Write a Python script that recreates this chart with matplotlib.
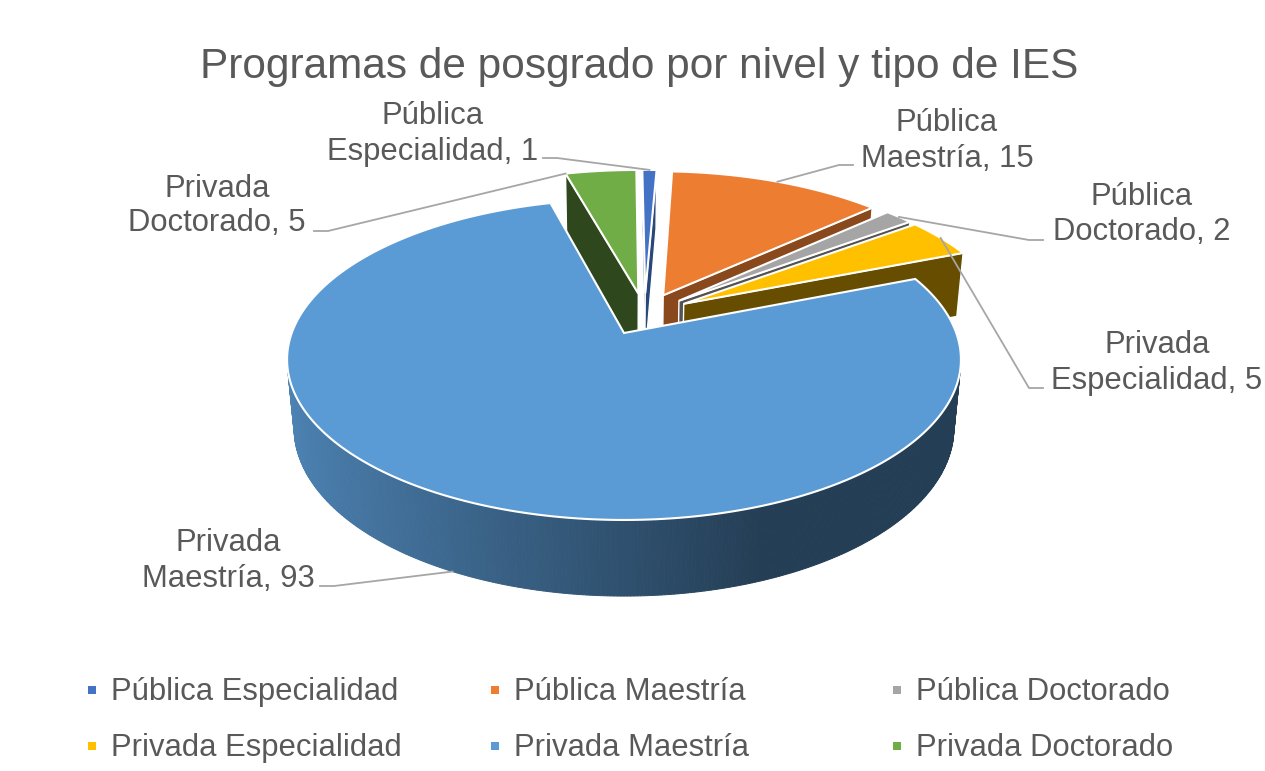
import numpy as np
import matplotlib
matplotlib.use("Agg")
import matplotlib.pyplot as plt
from matplotlib.patches import Polygon, Rectangle
from matplotlib.colors import to_rgb

plt.rcParams["font.family"] = ["Liberation Sans", "DejaVu Sans"]

TITLE = "Programas de posgrado por nivel y tipo de IES"
CATEGORIES = ["Pública Especialidad", "Pública Maestría", "Pública Doctorado",
              "Privada Especialidad", "Privada Maestría", "Privada Doctorado"]
LABEL_L1 = ["Pública", "Pública", "Pública", "Privada", "Privada", "Privada"]
LABEL_L2 = ["Especialidad", "Maestría", "Doctorado", "Especialidad", "Maestría", "Doctorado"]
VALUES = [1, 15, 2, 5, 93, 5]
COLORS = ["#4472C4", "#ED7D31", "#A5A5A5", "#FFC000", "#5B9BD5", "#70AD47"]

# label layout in pixels: centre x, baseline line 1, baseline line 2
LABEL_POS = [(433, 124, 160), (947, 131, 167), (1142, 205, 240),
             (1157, 353, 389), (228, 551, 587), (217, 197, 231)]
LEADER_TXT = [(543, 158), (853, 165), (1043, 240), (1043, 388), (320, 586), (314, 231)]
ANCHOR_FRAC = [0.5, 0.5, 0.5, 0.5, 0.5, 0.0]
ANCHOR_Z = [0, 0, 0, 0, -1, 0]
SIDE_SHADE = [0.62, 0.58, 0.5, 0.4, 0.45, 0.41]

TEXT = "#595959"
LINE = "#A6A6A6"

# 3d view
ELEV = np.radians(28)
DIST = 5.33
FOCAL = 1771
CX, CY = 624, 333
THICK = 0.235
EXPLODE = 0.14
CAM = np.array([0, -DIST * np.cos(ELEV), DIST * np.sin(ELEV)])


def project(x, y, z):
    depth = DIST + y * np.cos(ELEV) - z * np.sin(ELEV)
    px = CX + FOCAL * x / depth
    py = CY - FOCAL * (y * np.sin(ELEV) + z * np.cos(ELEV)) / depth
    return px, py


def unit(deg):
    r = np.radians(deg)
    return np.sin(r), np.cos(r)


def shade(color, f):
    return tuple(np.clip(np.array(to_rgb(color)) * f, 0, 1))


def facing(p, n):
    return np.dot(CAM - np.asarray(p), np.asarray(n)) > 0


fig = plt.figure(figsize=(12.65, 7.71), dpi=100)
ax = fig.add_axes([0, 0, 1, 1])
ax.set_xlim(0, 1265)
ax.set_ylim(771, 0)
ax.axis("off")

vals = np.array(VALUES, float)
ends = np.cumsum(vals) / vals.sum() * 360
starts = ends - vals / vals.sum() * 360
mids = (starts + ends) / 2
big = int(np.argmax(vals))
bx, by = unit(mids[big])
offs = [(EXPLODE * (unit(m)[0] - bx), EXPLODE * (unit(m)[1] - by)) for m in mids]

# back slices first
order = sorted(range(len(vals)), key=lambda i: -unit(mids[i])[1])
for i in order:
    ox, oy = offs[i]
    col = COLORS[i]
    phi = np.linspace(starts[i], ends[i], max(int((ends[i] - starts[i]) * 2), 2) + 1)
    X = ox + np.sin(np.radians(phi))
    Y = oy + np.cos(np.radians(phi))

    # outer wall
    for k in range(len(phi) - 1):
        pm = (phi[k] + phi[k + 1]) / 2
        nx, ny = unit(pm)
        if not facing((ox + nx, oy + ny, -THICK / 2), (nx, ny, 0)):
            continue
        f = np.interp(nx, [-1, 0.35, 1], [0.85, 0.40, 0.40])
        quad = [project(X[k], Y[k], 0), project(X[k + 1], Y[k + 1], 0),
                project(X[k + 1], Y[k + 1], -THICK), project(X[k], Y[k], -THICK)]
        c = shade(col, f)
        ax.add_patch(Polygon(quad, closed=True, fc=c, ec=c, lw=0.7, zorder=2))

    # radial walls
    for ang, sgn in ((starts[i], -1), (ends[i], 1)):
        ux, uy = unit(ang)
        n = (sgn * uy, -sgn * ux, 0)
        if not facing((ox + ux / 2, oy + uy / 2, -THICK / 2), n):
            continue
        quad = [project(ox, oy, 0), project(ox + ux, oy + uy, 0),
                project(ox + ux, oy + uy, -THICK), project(ox, oy, -THICK)]
        ax.add_patch(Polygon(quad, closed=True, fc=shade(col, SIDE_SHADE[i]),
                             ec="white", lw=1.0, zorder=2))

    # top face
    pts = [project(ox, oy, 0)] + [project(x, y, 0) for x, y in zip(X, Y)]
    ax.add_patch(Polygon(pts, closed=True, fc=col, ec="white", lw=1.5, zorder=2))

# data labels with leader lines
for i in range(len(vals)):
    cx, b1, b2 = LABEL_POS[i]
    ax.text(cx, b1, LABEL_L1[i], fontsize=22.3, color=TEXT, ha="center", va="baseline")
    ax.text(cx, b2, f"{LABEL_L2[i]}, {VALUES[i]}", fontsize=22.3, color=TEXT,
            ha="center", va="baseline")
    ox, oy = offs[i]
    ang = starts[i] + ANCHOR_FRAC[i] * (ends[i] - starts[i])
    ux, uy = unit(ang)
    axp, ayp = project(ox + ux, oy + uy, ANCHOR_Z[i] * THICK)
    tx, ty = LEADER_TXT[i]
    ex = tx + 14 if axp > tx else tx - 14
    ax.plot([tx, ex, axp], [ty, ty, ayp], color=LINE, lw=1.3, zorder=3)

ax.text(639, 78, TITLE, fontsize=30.5, color=TEXT, ha="center", va="baseline")

# legend, three columns
LEG_X = [92, 495, 897]
LEG_Y = [690, 746]
for k, (name, col) in enumerate(zip(CATEGORIES, COLORS)):
    x, y = LEG_X[k % 3], LEG_Y[k // 3]
    ax.add_patch(Rectangle((x - 4, y - 4), 8, 8, fc=col, ec="none"))
    ax.text(x + 19, y + 10, name, fontsize=22.3, color=TEXT, ha="left", va="baseline")

fig.savefig("out.png", dpi=100)
